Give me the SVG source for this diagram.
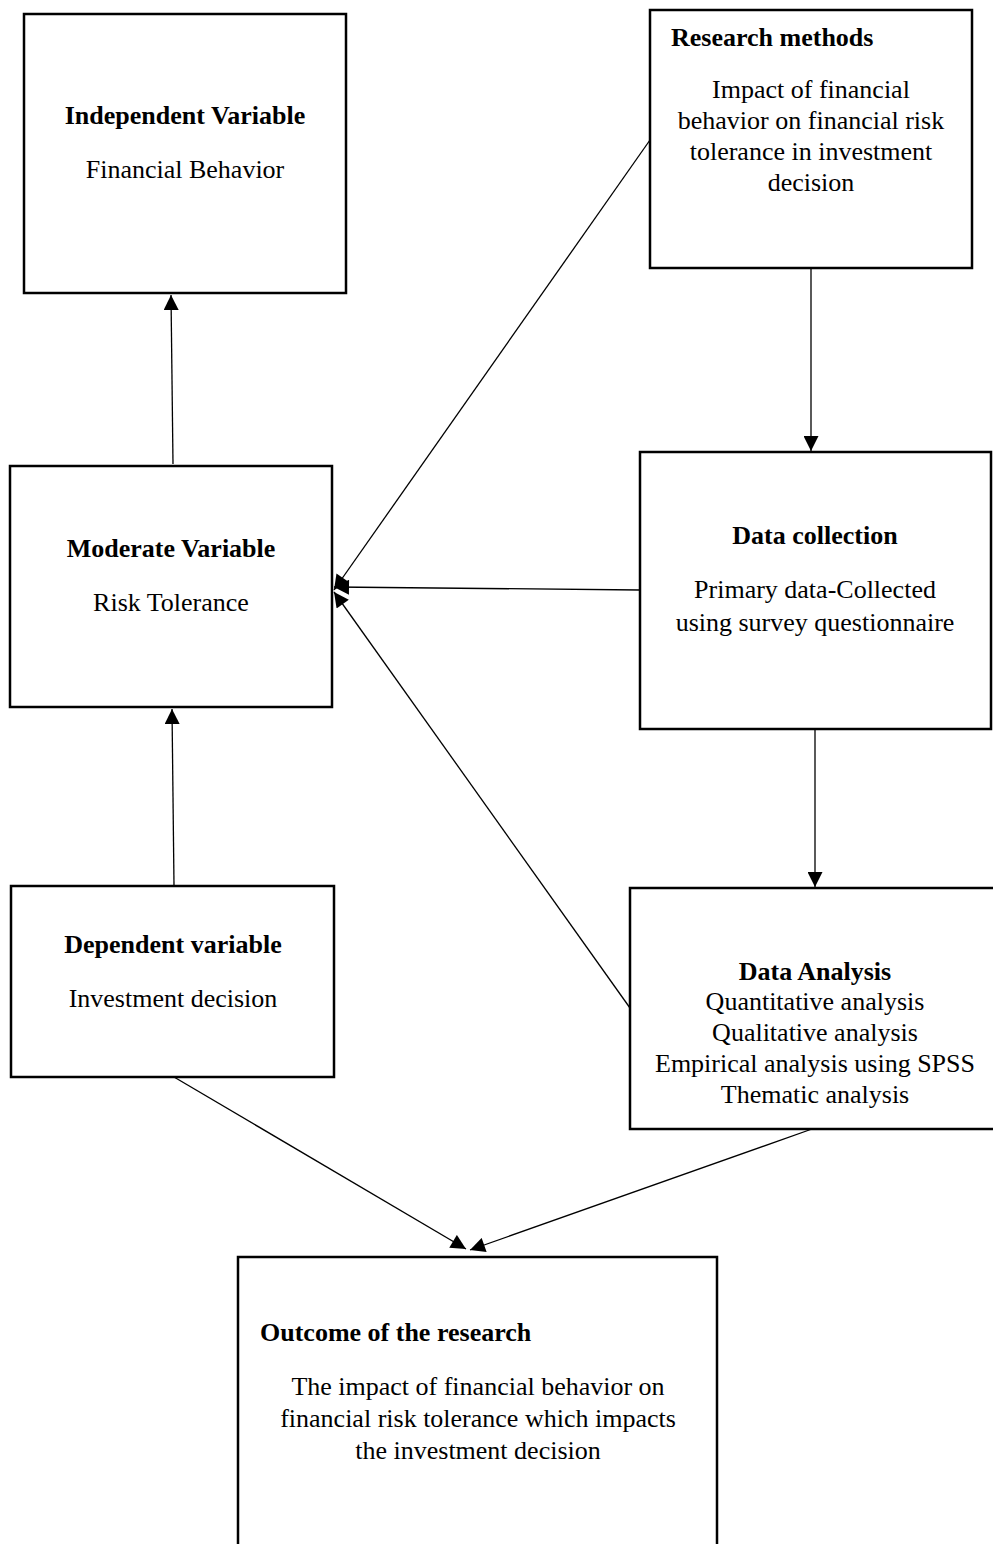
<svg xmlns="http://www.w3.org/2000/svg" width="993" height="1544" viewBox="0 0 993 1544">
<style>
.box{fill:#fff;stroke:#000;stroke-width:2.5}
.t{font-family:"Liberation Serif","Times New Roman",serif;font-size:26px;fill:#000}
.b{font-weight:bold}
.c{text-anchor:middle}
.ln{stroke:#000;stroke-width:1.3;fill:none;marker-end:url(#ah)}
</style>
<defs>
<marker id="ah" viewBox="0 0 10 10" refX="10" refY="5" markerUnits="userSpaceOnUse" markerWidth="16" markerHeight="15" orient="auto">
<path d="M0,0 L10,5 L0,10 z" fill="#000"/>
</marker>
</defs>
<rect width="993" height="1544" fill="#fff"/>
<g id="connectors">
<line class="ln" x1="173" y1="464" x2="171" y2="295"/>
<line class="ln" x1="174" y1="885" x2="172" y2="709"/>
<line class="ln" x1="811" y1="268" x2="811" y2="451"/>
<line class="ln" x1="815" y1="729" x2="815" y2="887"/>
<line class="ln" x1="650" y1="140" x2="334" y2="590"/>
<line class="ln" x1="640" y1="590" x2="334" y2="587"/>
<line class="ln" x1="630" y1="1008" x2="334" y2="592"/>
<line class="ln" x1="174" y1="1077" x2="466" y2="1249"/>
<line class="ln" x1="812" y1="1129" x2="470" y2="1250"/>
</g>
<g id="independent">
<rect class="box" x="24" y="14" width="322" height="279"/>
<text class="t b c" x="185" y="124">Independent Variable</text>
<text class="t c" x="185" y="178">Financial Behavior</text>
</g>
<g id="research">
<rect class="box" x="650" y="10" width="322" height="258"/>
<text class="t b" x="671" y="46">Research methods</text>
<text class="t c" x="811" y="98">Impact of financial</text>
<text class="t c" x="811" y="129">behavior on financial risk</text>
<text class="t c" x="811" y="160">tolerance in investment</text>
<text class="t c" x="811" y="191">decision</text>
</g>
<g id="moderate">
<rect class="box" x="10" y="466" width="322" height="241"/>
<text class="t b c" x="171" y="557">Moderate Variable</text>
<text class="t c" x="171" y="611">Risk Tolerance</text>
</g>
<g id="datacollection">
<rect class="box" x="640" y="452" width="351" height="277"/>
<text class="t b c" x="815" y="544">Data collection</text>
<text class="t c" x="815" y="598">Primary data-Collected</text>
<text class="t c" x="815" y="631">using survey questionnaire</text>
</g>
<g id="dependent">
<rect class="box" x="11" y="886" width="323" height="191"/>
<text class="t b c" x="173" y="953">Dependent variable</text>
<text class="t c" x="173" y="1007">Investment decision</text>
</g>
<g id="dataanalysis">
<rect class="box" x="630" y="888" width="370" height="241"/>
<text class="t b c" x="815" y="980">Data Analysis</text>
<text class="t c" x="815" y="1010">Quantitative analysis</text>
<text class="t c" x="815" y="1041">Qualitative analysis</text>
<text class="t c" x="815" y="1072">Empirical analysis using SPSS</text>
<text class="t c" x="815" y="1103">Thematic analysis</text>
</g>
<g id="outcome">
<rect class="box" x="238" y="1257" width="479" height="300"/>
<text class="t b" x="260" y="1341">Outcome of the research</text>
<text class="t c" x="478" y="1395">The impact of financial behavior on</text>
<text class="t c" x="478" y="1427">financial risk tolerance which impacts</text>
<text class="t c" x="478" y="1459">the investment decision</text>
</g>
</svg>
